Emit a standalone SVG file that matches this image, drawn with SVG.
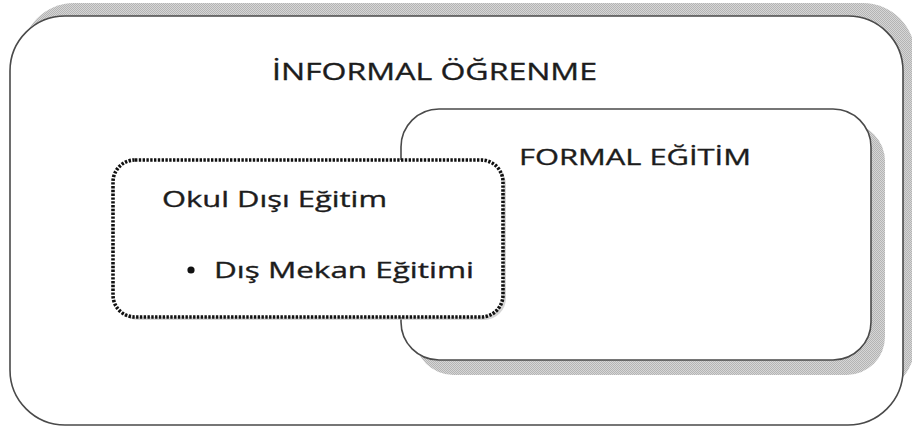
<svg xmlns="http://www.w3.org/2000/svg" width="912" height="430" viewBox="0 0 912 430">
<defs>
<pattern id="chk" width="2" height="2" patternUnits="userSpaceOnUse">
<rect width="2" height="2" fill="#d6d6d6"/>
<rect width="1" height="1" fill="#b4b4b4"/>
<rect x="1" y="1" width="1" height="1" fill="#b4b4b4"/>
</pattern>
</defs>
<style>
.box{fill:#fff;stroke:#4a4a4a;stroke-width:1.6}
.shadow{fill:url(#chk);stroke:none}
.dotted{fill:#fff;stroke:#111;stroke-width:3.6;stroke-dasharray:2.4 1.4}
.lbl{font-family:"Open Sans","Noto Sans","Liberation Sans",sans-serif;fill:#1c1c1c;stroke:#1c1c1c;stroke-width:0.35}
</style>
<rect width="912" height="430" fill="#fff"/>
<g id="informal">
<rect class="shadow" x="22" y="3" width="893" height="393" rx="52" ry="52"/>
<rect class="box" x="10" y="16" width="893" height="409" rx="55" ry="55"/>
<text class="lbl" x="272" y="80" font-size="24" textLength="325" lengthAdjust="spacingAndGlyphs">İNFORMAL ÖĞRENME</text>
</g>
<g id="formal">
<rect class="shadow" x="415" y="123" width="470" height="252" rx="38" ry="38"/>
<rect class="box" x="401" y="109" width="470" height="251" rx="38" ry="38"/>
<text class="lbl" x="519" y="165" font-size="22" textLength="232" lengthAdjust="spacingAndGlyphs">FORMAL EĞİTİM</text>
</g>
<g id="okul-disi">
<rect x="116" y="163" width="390" height="157" rx="22" ry="22" fill="#bbb" opacity="0.6"/>
<rect class="dotted" x="113" y="160" width="390" height="157" rx="22" ry="22"/>
<text class="lbl" x="162" y="207" font-size="22" textLength="225" lengthAdjust="spacingAndGlyphs">Okul Dışı Eğitim</text>
<circle cx="191" cy="270" r="3.6" fill="#111"/>
<text class="lbl" x="214" y="278" font-size="22" textLength="260" lengthAdjust="spacingAndGlyphs">Dış Mekan Eğitimi</text>
</g>
<g id="connectors"/>
</svg>
